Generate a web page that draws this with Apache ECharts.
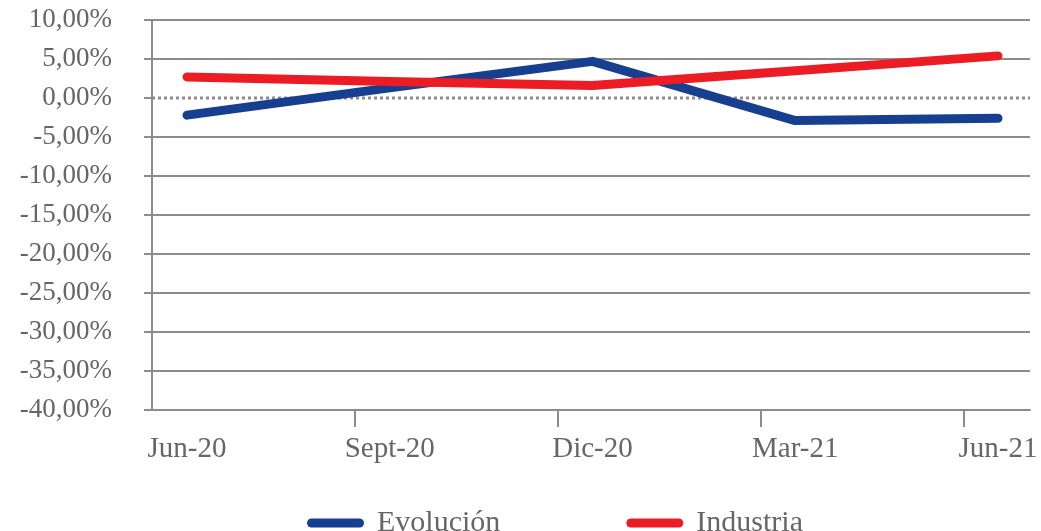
<!DOCTYPE html>
<html>
<head>
<meta charset="utf-8">
<script src="https://cdn.jsdelivr.net/npm/echarts@6/dist/echarts.min.js"></script>
<style>
  html, body { margin: 0; padding: 0; background: #fff; }
  #chart { width: 1041px; height: 531px; }
</style>
</head>
<body>
<div id="chart"></div>
<script>
// Quarterly periods shown on the horizontal axis
const categories = ['Jun-20', 'Sept-20', 'Dic-20', 'Mar-21', 'Jun-21'];

// Percentage change per quarter
const evolucion = [-2.2, 1.3, 4.7, -2.9, -2.6];
const industria = [2.7, 2.1, 1.6, 3.5, 5.4];

// Vertical scale (percent)
const yMin = -40;
const yMax = 10;
const yStep = 5;

// Reference line at 0 %, spanning the frame axis (x in frame units)
const zeroLine = [[0, 0], [4.325, 0]];

const FONT = '"Liberation Serif", "Times New Roman", serif';
const GREY = '#8c8c8c';
const TEXT = '#666666';
const BLUE = '#163f8f';
const RED = '#ec1c24';

// One split-line colour per gridline, from yMin upward; the 0 % line is drawn dotted separately
const splitColors = [];
for (let v = yMin; v <= yMax; v += yStep) splitColors.push(v === 0 ? 'rgba(0,0,0,0)' : GREY);

const chart = echarts.init(document.getElementById('chart'), null, { renderer: 'canvas' });

chart.setOption({
  animation: false,
  backgroundColor: '#ffffff',
  grid: [
    // data area: first and last quarter sit inside the frame
    { left: 187, right: 43, top: 20, bottom: 121 },
    // frame: axes, ticks and gridlines
    { left: 152, right: 11, top: 20, bottom: 121 }
  ],
  legend: {
    data: ['Evolución', 'Industria'],
    left: 302,
    top: 503,
    itemWidth: 57,
    itemHeight: 9,
    itemGap: 126,
    icon: 'path://M4.5,0 H52.5 A4.5,4.5 0 0 1 52.5,9 H4.5 A4.5,4.5 0 0 1 4.5,0 Z',
    textStyle: { fontFamily: FONT, fontSize: 30, color: TEXT, padding: [0, 0, 0, 8] }
  },
  xAxis: [
    {
      type: 'category',
      gridIndex: 0,
      data: categories,
      boundaryGap: false,
      axisLine: { show: false },
      axisTick: { show: false },
      splitLine: { show: false },
      axisLabel: { fontFamily: FONT, fontSize: 29, color: TEXT, margin: 25 }
    },
    {
      type: 'value',
      gridIndex: 1,
      min: 0,
      max: 4.325,
      interval: 1,
      axisLine: { show: true, onZero: false, lineStyle: { color: GREY, width: 2 } },
      axisTick: { show: true, length: 17, customValues: [1, 2, 3, 4], lineStyle: { color: GREY, width: 2 } },
      axisLabel: { show: false },
      splitLine: { show: false }
    }
  ],
  yAxis: [
    {
      type: 'value',
      gridIndex: 0,
      min: yMin,
      max: yMax,
      interval: yStep,
      show: false,
      splitLine: { show: false }
    },
    {
      type: 'value',
      gridIndex: 1,
      min: yMin,
      max: yMax,
      interval: yStep,
      axisLine: { show: true, onZero: false, lineStyle: { color: GREY, width: 2 } },
      axisTick: { show: true, length: 8, lineStyle: { color: GREY, width: 2 } },
      axisLabel: {
        fontFamily: FONT, fontSize: 27, color: TEXT, margin: 40,
        formatter: v => v.toFixed(2).replace('.', ',') + '%'
      },
      splitLine: { show: true, lineStyle: { color: splitColors, width: 2 } }
    }
  ],
  series: [
    {
      name: 'zero',
      type: 'line',
      xAxisIndex: 1,
      yAxisIndex: 1,
      data: zeroLine,
      symbol: 'none',
      silent: true,
      z: 1,
      lineStyle: { color: GREY, width: 3, type: [3, 3] }
    },
    {
      name: 'Evolución',
      type: 'line',
      xAxisIndex: 0,
      yAxisIndex: 0,
      data: evolucion,
      symbol: 'none',
      z: 3,
      color: BLUE,
      lineStyle: { color: BLUE, width: 9, cap: 'round', join: 'round' }
    },
    {
      name: 'Industria',
      type: 'line',
      xAxisIndex: 0,
      yAxisIndex: 0,
      data: industria,
      symbol: 'none',
      z: 4,
      color: RED,
      lineStyle: { color: RED, width: 9, cap: 'round', join: 'round' }
    }
  ]
});
</script>
</body>
</html>
